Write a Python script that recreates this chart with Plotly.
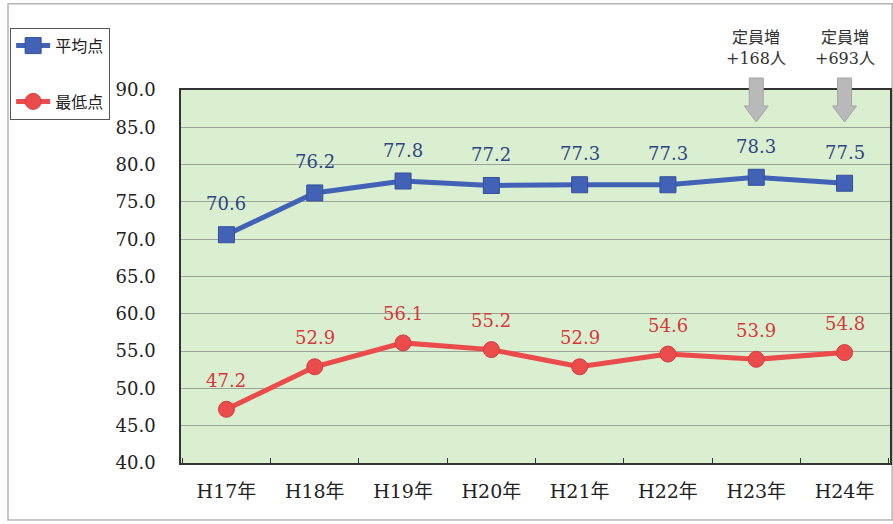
import plotly.graph_objects as go

categories = ["H17年", "H18年", "H19年", "H20年", "H21年", "H22年", "H23年", "H24年"]
avg_scores = [70.6, 76.2, 77.8, 77.2, 77.3, 77.3, 78.3, 77.5]
min_scores = [47.2, 52.9, 56.1, 55.2, 52.9, 54.6, 53.9, 54.8]
series_names = ["平均点", "最低点"]
note_cats = ["H23年", "H24年"]
note_texts = ["定員増<br>+168人", "定員増<br>+693人"]

BLUE = "#4263b5"
BLUE_TXT = "#2f4585"
RED = "#ec4b4c"
RED_TXT = "#d8383c"
FONT = "DejaVu Serif, Noto Sans CJK JP, serif"

fig = go.Figure()
fig.add_trace(go.Scatter(
    x=categories, y=avg_scores, name=series_names[0], mode="lines+markers",
    line=dict(color=BLUE, width=5),
    marker=dict(symbol="square", size=16, color=BLUE, line=dict(color="#34509a", width=1)),
    legendgroup="a", cliponaxis=False))
fig.add_trace(go.Scatter(
    x=categories, y=min_scores, name=series_names[1], mode="lines+markers",
    line=dict(color=RED, width=5),
    marker=dict(symbol="circle", size=16, color=RED, line=dict(color="#d83c3e", width=1)),
    legendgroup="b", cliponaxis=False))

annotations = []
for c, v in zip(categories, avg_scores):
    annotations.append(dict(x=c, y=v, text=f"{v:.1f}", showarrow=False, yshift=31,
                            font=dict(family=FONT, size=18, color=BLUE_TXT)))
for c, v in zip(categories, min_scores):
    annotations.append(dict(x=c, y=v, text=f"{v:.1f}", showarrow=False, yshift=29,
                            font=dict(family=FONT, size=18, color=RED_TXT)))

shapes = [dict(type="rect", xref="paper", yref="paper", x0=-0.244, x1=1.003, y0=-0.153, y1=1.231,
               line=dict(color="#b5b5b5", width=1.5), layer="below")]
arrow_path = "M -7 12 L 7 12 L 7 -16 L 12 -16 L 0 -32 L -12 -16 L -7 -16 Z"
for c, t in zip(note_cats, note_texts):
    annotations.append(dict(x=c, xref="x", y=1.113, yref="paper", text=t, showarrow=False,
                            yanchor="middle", font=dict(family=FONT, size=16, color="#333333")))
    shapes.append(dict(type="path", xref="x", xsizemode="pixel", xanchor=categories.index(c),
                       yref="paper", ysizemode="pixel", yanchor=1.0, path=arrow_path,
                       fillcolor="#b9b9b9", line=dict(color="#a5a5a5", width=1), layer="above"))

fig.update_layout(
    width=893, height=524,
    margin=dict(l=181, r=3, t=90, b=61, autoexpand=False),
    paper_bgcolor="white",
    plot_bgcolor="#d9efcf",
    font=dict(family=FONT, size=18, color="#222222"),
    showlegend=True,
    legend=dict(x=-0.241, y=1.167, xanchor="left", yanchor="top",
                bordercolor="#555555", borderwidth=1, bgcolor="white",
                font=dict(family="Noto Sans CJK JP", size=16, color="#222222"),
                tracegroupgap=32, itemwidth=34, traceorder="grouped"),
    annotations=annotations,
    shapes=shapes,
)
fig.update_xaxes(showline=True, linecolor="#333333", linewidth=1.5, mirror=True,
                 ticks="inside", tickson="boundaries", ticklen=5, tickcolor="#333333",
                 showgrid=False, ticklabelstandoff=10,
                 tickfont=dict(family=FONT, size=19, color="#222222"))
fig.update_yaxes(range=[40, 90], dtick=5, tickformat=".1f", showline=True, linecolor="#333333",
                 linewidth=1.5, mirror=True, gridcolor="#9aa59a", gridwidth=1, zeroline=False,
                 ticks="", ticklabelstandoff=20,
                 tickfont=dict(family=FONT, size=18, color="#222222"))

fig.write_html("out.html", config={"displayModeBar": False},
               post_script="document.body.style.margin='0';")
